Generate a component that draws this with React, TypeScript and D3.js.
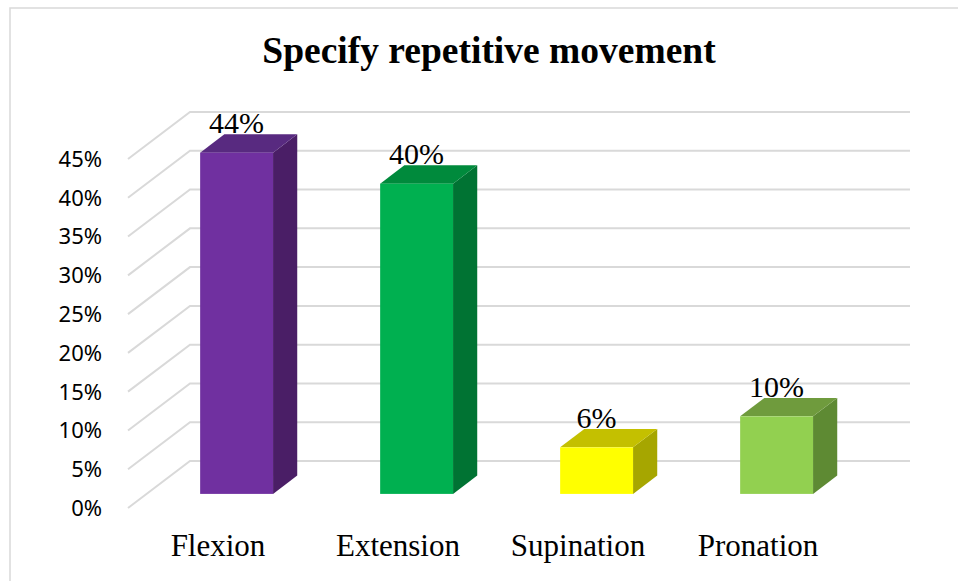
import React, { useEffect, useRef } from "react";
import * as d3 from "d3";

const categories = ["Flexion", "Extension", "Supination", "Pronation"];
const values = [0.44, 0.4, 0.06, 0.1];
const yTicks = [0, 0.05, 0.1, 0.15, 0.2, 0.25, 0.3, 0.35, 0.4, 0.45];
const frontColors = ["#7030a0", "#00b050", "#ffff00", "#92d050"];
const topColors = ["#582a80", "#008a3c", "#c4c000", "#6f9b3d"];
const sideColors = ["#4a1e66", "#007333", "#a6a600", "#5e8a33"];

const width = 958;
const height = 581;

export default function App() {
  const ref = useRef<SVGSVGElement>(null);

  useEffect(() => {
    const svg = d3.select(ref.current);
    svg.selectAll("*").remove();

    // front plane of the 3d box, depth vector goes back/up
    const left = 128;
    const right = 848;
    const depth = [62, -47];
    const dFront = 0.3;
    const dBack = 0.69;
    const off = (t: number) => [depth[0] * t, depth[1] * t];

    const x = d3
      .scaleBand()
      .domain(categories)
      .range([left, right])
      .paddingInner(0.595)
      .paddingOuter(0.2975);
    const y = d3.scaleLinear().domain([0, 0.45]).range([508, 159]);
    const pct = d3.format(".0%");

    // chart border
    svg
      .append("rect")
      .attr("x", 10)
      .attr("y", 8)
      .attr("width", 970)
      .attr("height", 620)
      .attr("fill", "white")
      .attr("stroke", "#d9d9d9")
      .attr("stroke-width", 1.5);

    svg
      .append("text")
      .attr("x", 489)
      .attr("y", 63)
      .attr("text-anchor", "middle")
      .style("font", "bold 37.5px 'Liberation Serif', 'Times New Roman', serif")
      .text("Specify repetitive movement");

    // gridlines: side wall diagonals and back wall
    const grid = svg.append("g").attr("stroke", "#d9d9d9").attr("stroke-width", 2).attr("fill", "none");
    const [bx, by] = off(1);
    yTicks.forEach((t) => {
      grid
        .append("path")
        .attr("d", `M${left},${y(t)}L${left + bx},${y(t) + by}L${right + bx},${y(t) + by}`);
    });

    svg
      .append("g")
      .selectAll("text")
      .data(yTicks)
      .join("text")
      .attr("x", 102)
      .attr("y", (d) => y(d))
      .attr("dy", "0.36em")
      .attr("text-anchor", "end")
      .style("font", "22px 'Noto Sans', 'Open Sans', sans-serif")
      .attr("fill", "#000")
      .text((d) => pct(d));

    const [fx, fy] = off(dFront);
    const [kx, ky] = off(dBack);

    const bars = svg
      .append("g")
      .selectAll("g")
      .data(categories)
      .join("g");

    bars.each(function (c, i) {
      const g = d3.select(this);
      const x0 = x(c)!;
      const x1 = x0 + x.bandwidth();
      const yt = y(values[i]);
      const y0 = y(0);
      g.append("path")
        .attr("fill", sideColors[i])
        .attr(
          "d",
          `M${x1 + fx},${yt + fy}L${x1 + kx},${yt + ky}L${x1 + kx},${y0 + ky}L${x1 + fx},${y0 + fy}Z`
        );
      g.append("path")
        .attr("fill", topColors[i])
        .attr(
          "d",
          `M${x0 + fx},${yt + fy}L${x1 + fx},${yt + fy}L${x1 + kx},${yt + ky}L${x0 + kx},${yt + ky}Z`
        );
      g.append("rect")
        .attr("x", x0 + fx)
        .attr("y", yt + fy)
        .attr("width", x1 - x0)
        .attr("height", y0 - yt)
        .attr("fill", frontColors[i]);
      g.append("text")
        .attr("x", x0 + x.bandwidth() / 2 + fx)
        .attr("y", yt + ky - 1)
        .attr("text-anchor", "middle")
        .style("font", "30px 'Liberation Serif', 'Times New Roman', serif")
        .text(pct(values[i]));
    });

    svg
      .append("g")
      .selectAll("text")
      .data(categories)
      .join("text")
      .attr("x", (d) => x(d)! + x.bandwidth() / 2)
      .attr("y", 556)
      .attr("text-anchor", "middle")
      .style("font", "31px 'Liberation Serif', 'Times New Roman', serif")
      .text((d) => d);
  }, []);

  return (
    <svg
      ref={ref}
      width={width}
      height={height}
      style={{ position: "absolute", left: 0, top: 0, background: "white" }}
    />
  );
}
